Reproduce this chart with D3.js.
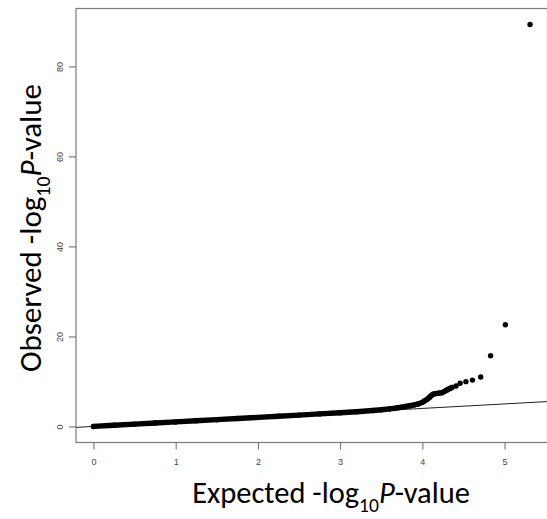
<!DOCTYPE html>
<html>
<head>
<meta charset="utf-8">
<script src="https://cdn.jsdelivr.net/npm/d3@7/dist/d3.min.js"></script>
<style>
  body { margin: 0; background: #fff; }
  svg { display: block; }
</style>
</head>
<body>
<svg id="chart" width="547" height="519"></svg>
<script>
// Q-Q plot of association p-values: expected vs observed -log10(P)

// Bulk of the distribution (dense run of points hugging the diagonal)
const expectedBand = [0, 0.25, 0.5, 0.75, 1.0, 1.25, 1.5, 1.75, 2.0, 2.25, 2.5, 2.75,
  3.0, 3.2, 3.4, 3.5, 3.6, 3.65, 3.7, 3.75, 3.8, 3.85, 3.9, 3.95, 4.0, 4.03, 4.06,
  4.09, 4.11, 4.13, 4.16, 4.2, 4.24, 4.27, 4.30, 4.33, 4.36];
const observedBand = [0, 0.25, 0.5, 0.75, 1.0, 1.25, 1.5, 1.75, 2.0, 2.27, 2.52, 2.78,
  3.05, 3.27, 3.55, 3.7, 3.9, 4.0, 4.15, 4.3, 4.45, 4.6, 4.78, 5.0, 5.35, 5.7, 6.05,
  6.5, 6.9, 7.15, 7.3, 7.4, 7.5, 7.8, 8.1, 8.4, 8.65];

// Top-ranked individual signals
const expectedTail = [4.41, 4.46, 4.53, 4.61, 4.71, 4.83, 5.01, 5.31];
const observedTail = [9.0, 9.6, 9.95, 10.3, 11.0, 15.7, 22.6, 89.3];

const xTicks = [0, 1, 2, 3, 4, 5];
const yTicks = [0, 20, 40, 60, 80];

const svg = d3.select("#chart");
const plot = { left: 76, top: 8.5, right: 547.5, bottom: 442.5 };

const allExp = expectedBand.concat(expectedTail);
const allObs = observedBand.concat(observedTail);
// R-style 4% padding of the data range
const pad = ([lo, hi]) => [lo - (hi - lo) * 0.04, hi + (hi - lo) * 0.04];

const x = d3.scaleLinear().domain(pad(d3.extent(allExp))).range([plot.left, plot.right]);
const y = d3.scaleLinear().domain(pad(d3.extent(allObs))).range([plot.bottom, plot.top]);

svg.append("defs").append("clipPath").attr("id", "plotClip")
  .append("rect")
  .attr("x", plot.left).attr("y", plot.top)
  .attr("width", plot.right - plot.left).attr("height", plot.bottom - plot.top);

const body = svg.append("g").attr("clip-path", "url(#plotClip)");

// Reference line y = x
const [d0, d1] = x.domain();
body.append("line")
  .attr("x1", x(d0)).attr("y1", y(d0))
  .attr("x2", x(d1)).attr("y2", y(d1))
  .attr("stroke", "#222").attr("stroke-width", 1);

// Dense band drawn as a thick run through the listed points
const band = expectedBand.map((e, i) => [e, observedBand[i]]);
body.append("path")
  .datum(band)
  .attr("d", d3.line().x(d => x(d[0])).y(d => y(d[1])))
  .attr("fill", "none").attr("stroke", "#000")
  .attr("stroke-width", 5.4)
  .attr("stroke-linecap", "round").attr("stroke-linejoin", "round");

body.selectAll("circle.band").data(band).join("circle")
  .attr("class", "band")
  .attr("cx", d => x(d[0])).attr("cy", d => y(d[1])).attr("r", 2.7)
  .attr("fill", "#000");

const tail = expectedTail.map((e, i) => [e, observedTail[i]]);
body.selectAll("circle.tail").data(tail).join("circle")
  .attr("class", "tail")
  .attr("cx", d => x(d[0])).attr("cy", d => y(d[1])).attr("r", 2.7)
  .attr("fill", "#000");

// Frame
svg.append("rect")
  .attr("x", plot.left).attr("y", plot.top)
  .attr("width", plot.right - plot.left).attr("height", plot.bottom - plot.top)
  .attr("fill", "none").attr("stroke", "#7a7a7a").attr("stroke-width", 1.2);

// Axes
const tickColor = "#666";
const fmt = d3.format("d");
const xAxis = svg.append("g")
  .attr("transform", `translate(0,${plot.bottom})`)
  .call(d3.axisBottom(x).tickValues(xTicks).tickFormat(fmt).tickSize(7).tickSizeOuter(0).tickPadding(9));
xAxis.select(".domain").remove();
xAxis.selectAll(".tick line").attr("stroke", tickColor);
xAxis.selectAll(".tick text")
  .attr("fill", "#444").attr("font-family", "Liberation Sans, Arial, sans-serif").attr("font-size", 9);

const yAxis = svg.append("g")
  .attr("transform", `translate(${plot.left},0)`)
  .call(d3.axisLeft(y).tickValues(yTicks).tickFormat(fmt).tickSize(7).tickSizeOuter(0));
yAxis.select(".domain").remove();
yAxis.selectAll(".tick line").attr("stroke", tickColor);
yAxis.selectAll(".tick text")
  .attr("fill", "#444").attr("font-family", "Liberation Sans, Arial, sans-serif").attr("font-size", 9)
  .attr("text-anchor", "middle").attr("dy", 0)
  .attr("x", 0).attr("y", 0)
  .attr("transform", "translate(-16,0) rotate(-90) translate(0,3)");

// Axis titles
const titleFont = "Carlito, Calibri, Lato, 'Noto Sans', sans-serif";
function title(g, size) {
  return g.append("text").attr("font-family", titleFont).attr("font-size", size)
    .attr("fill", "#000").attr("text-anchor", "middle");
}
function fill(t, lead, size) {
  t.append("tspan").text(lead + " -log");
  t.append("tspan").attr("font-size", size * 0.64).attr("dy", size * 0.28).text("10");
  t.append("tspan").attr("font-style", "italic").attr("dy", -size * 0.28).text("P");
  t.append("tspan").text("-value");
}

const xs = 30.5;
const xt = title(svg.append("g").attr("transform", "translate(331,503)"), xs);
fill(xt, "Expected", xs);

const ys = 31;
const yt = title(svg.append("g").attr("transform", "translate(41,228) rotate(-90)"), ys);
fill(yt, "Observed", ys);
</script>
</body>
</html>
